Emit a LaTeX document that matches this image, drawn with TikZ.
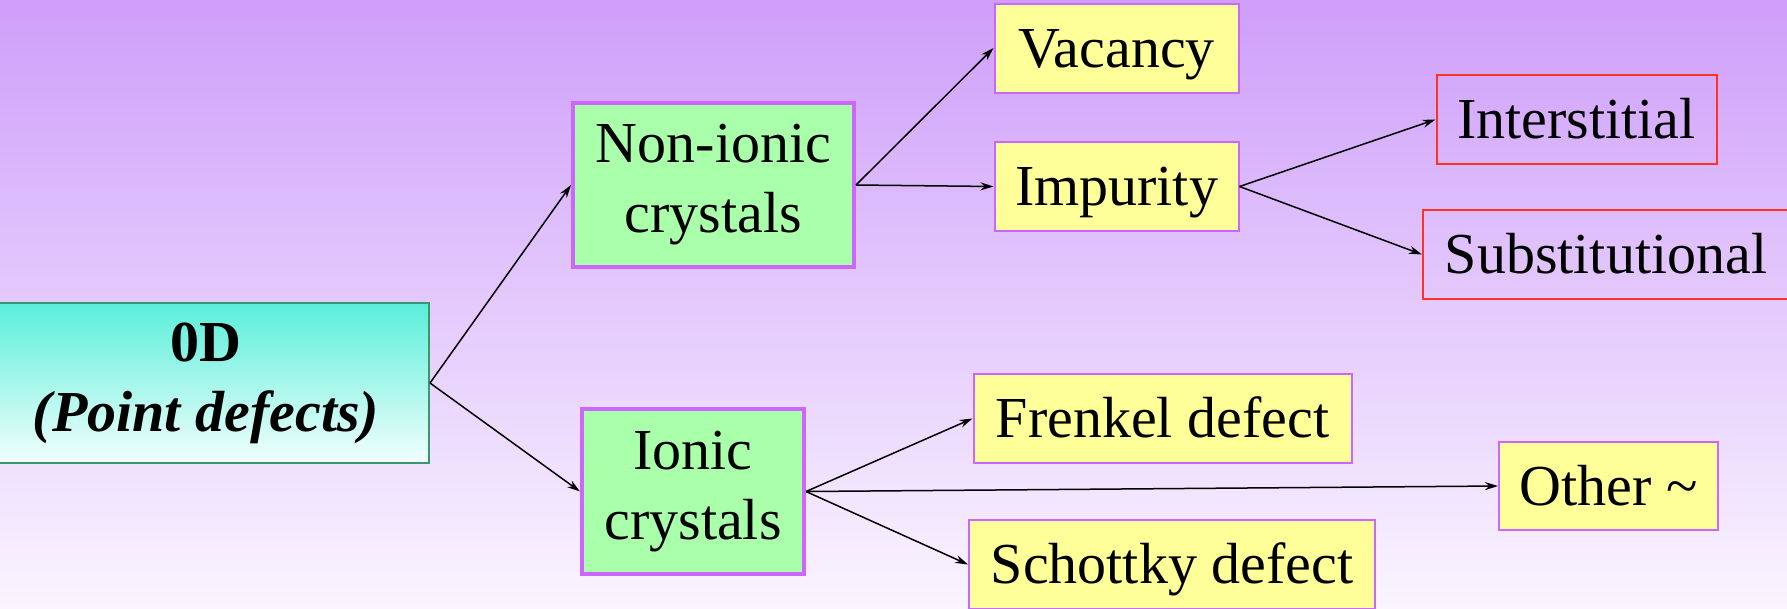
\documentclass[tikz,border=0pt]{standalone}
\usepackage{fontspec}
\setmainfont{Liberation Serif}
\usetikzlibrary{arrows.meta}
\definecolor{bgtop}{RGB}{206,158,250}
\definecolor{bgbot}{RGB}{250,245,255}
\definecolor{turq}{RGB}{90,238,218}
\definecolor{turqbot}{RGB}{242,255,252}
\definecolor{zdborder}{RGB}{58,150,110}
\definecolor{greenfill}{RGB}{170,255,170}
\definecolor{purpleb}{RGB}{204,102,255}
\definecolor{yellowfill}{RGB}{255,255,153}
\definecolor{redb}{RGB}{255,51,34}
\tikzset{
  lbl/.style={font=\fontsize{58}{70}\selectfont, align=center, inner sep=0pt},
  oneline/.style={text height=45pt, text depth=7pt},
  greenbox/.style={lbl, draw=purpleb, line width=4pt, fill=greenfill},
  yellowbox/.style={lbl, oneline, draw=purpleb, line width=2pt, fill=yellowfill},
  redbox/.style={lbl, oneline, draw=redb, line width=2pt},
  zdbox/.style={lbl, draw=zdborder, line width=2pt, top color=turq, bottom color=turqbot},
  conn/.style={line width=1.5pt, -{Stealth[length=13pt,width=8pt]}}
}
\begin{document}
\begin{tikzpicture}[x=1pt,y=-1pt]
\useasboundingbox (0,0) rectangle (1787,608);
\shade[top color=bgtop, bottom color=bgbot] (0,0) rectangle (1787,608);
\clip (0,0) rectangle (1787,608);
\node[zdbox, minimum width=446pt, minimum height=160pt] (zd) at (206,383)
  {\textbf{0D}\\\textbf{\textit{(Point defects)}}};
\node[greenbox, minimum width=281pt, minimum height=164pt] (noni) at (713.5,185)
  {Non-ionic\\crystals};
\node[greenbox, minimum width=222pt, minimum height=165pt] (ionic) at (693,491.5)
  {Ionic\\crystals};
\node[yellowbox, minimum width=244pt, minimum height=89pt] (vac) at (1116.5,48)
  {Vacancy};
\node[yellowbox, minimum width=244pt, minimum height=89pt] (imp) at (1116.5,186.5)
  {Impurity};
\node[redbox, minimum width=280pt, minimum height=89pt] (inter) at (1576.5,119.5)
  {Interstitial};
\node[redbox, minimum width=366pt, minimum height=89pt] (subs) at (1606,254.5)
  {Substitutional};
\node[yellowbox, minimum width=378pt, minimum height=89pt] (fren) at (1162.5,418.5)
  {Frenkel defect};
\node[yellowbox, minimum width=219pt, minimum height=88pt] (other) at (1608.5,486)
  {Other \textasciitilde};
\node[yellowbox, minimum width=406pt, minimum height=89pt] (scho) at (1172,564.5)
  {Schottky defect};
\draw[conn] (zd.east) -- (noni.west);
\draw[conn] (zd.east) -- (ionic.west);
\draw[conn] (noni.east) -- (vac.west);
\draw[conn] (noni.east) -- (imp.west);
\draw[conn] (imp.east) -- (inter.west);
\draw[conn] (imp.east) -- (subs.west);
\draw[conn] (ionic.east) -- (fren.west);
\draw[conn] (ionic.east) -- (other.west);
\draw[conn] (ionic.east) -- (scho.west);
\end{tikzpicture}
\end{document}
